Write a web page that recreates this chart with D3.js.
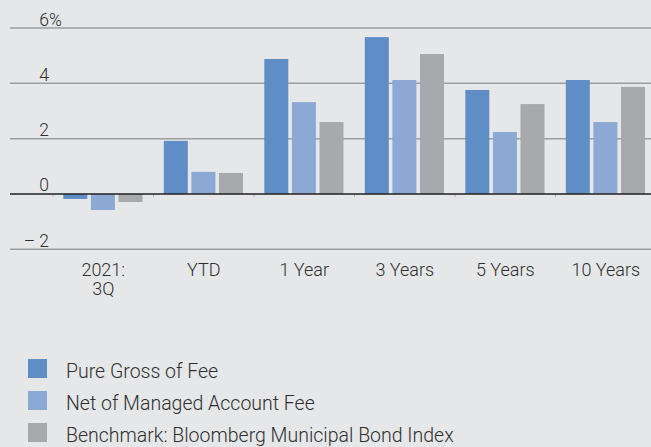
<!DOCTYPE html>
<html>
<head>
<meta charset="utf-8">
<script src="https://cdn.jsdelivr.net/npm/d3@7"></script>
<style>
  html, body { margin: 0; padding: 0; background: #e6e7e9; }
  svg { display: block; }
  text { font-family: "Roboto", sans-serif; font-weight: 300; fill: #2f2f30; }
</style>
</head>
<body>
<svg id="chart" width="651" height="447"></svg>
<script>
"use strict";

// data
const categories = ["2021:\n3Q", "YTD", "1 Year", "3 Years", "5 Years", "10 Years"];
const seriesNames = ["Pure Gross of Fee", "Net of Managed Account Fee", "Benchmark: Bloomberg Municipal Bond Index"];
const pureGross = [-0.18, 1.92, 4.88, 5.67, 3.76, 4.12];
const netOfFee = [-0.58, 0.80, 3.32, 4.12, 2.24, 2.60];
const benchmark = [-0.29, 0.76, 2.60, 5.06, 3.25, 3.87];
const yTicks = [-2, 0, 2, 4, 6];
const colors = ["#5f8ec6", "#8ba9d4", "#a8a9ac"];

const values = [pureGross, netOfFee, benchmark];



// layout
const svg = d3.select("#chart");
const gridLeft = 10,
      gridRight = 651;

let scaleY = d3.scaleLinear()
.domain([-2, 6])
.range([249.3, 28]);

let scaleX = d3.scaleBand()
.domain(categories)
.range([53, 656])
.padding(0);

let scaleInner = d3.scaleBand()
.domain(d3.range(seriesNames.length))
.range([10.3, 89.5])
.paddingInner(0.13);



// grid lines
svg.append("g")
.attr("class", "grid")
.selectAll("line")
.data(yTicks.filter(t => t != 0))
.enter()
.append("line")
.attr("x1", gridLeft)
.attr("x2", gridRight)
.attr("y1", d => scaleY(d))
.attr("y2", d => scaleY(d))
.attr("stroke", "#9c9d9f")
.attr("stroke-width", 1.5);



// y tick labels
let yLabels = svg.append("g").attr("class", "y_axis");
yLabels.selectAll("text")
.data(yTicks)
.enter()
.append("text")
.attr("x", 49)
.attr("y", d => scaleY(d) - 2.5)
.attr("text-anchor", "end")
.attr("font-size", 17.5)
.text(d => d < 0 ? "\u2013 " + Math.abs(d) : d);
yLabels.append("text")
.attr("x", 49)
.attr("y", scaleY(6) - 2.5)
.attr("font-size", 17.5)
.text("%");



// bars
svg.append("g")
.selectAll("g.bar_groups")
.data(categories)
.enter()
.append("g")
.attr("class", "bar_groups")
.attr("transform", d => `translate(${scaleX(d)}, 0)`)
.each(function(cat, i) {
    d3.select(this)
    .selectAll("rect")
    .data(values.map((v, k) => ({k: k, v: v[i]})))
    .enter()
    .append("rect")
    .attr("x", d => scaleInner(d.k))
    .attr("width", scaleInner.bandwidth())
    .attr("y", d => scaleY(Math.max(0, d.v)))
    .attr("height", d => Math.abs(scaleY(d.v) - scaleY(0)))
    .attr("fill", d => colors[d.k]);
});



// zero line + small ticks
svg.append("g")
.selectAll("line")
.data(categories)
.enter()
.append("line")
.attr("x1", d => scaleX(d))
.attr("x2", d => scaleX(d))
.attr("y1", scaleY(0))
.attr("y2", scaleY(0) + 3)
.attr("stroke", "#b5b6b8")
.attr("stroke-width", 1);

svg.append("line")
.attr("x1", gridLeft)
.attr("x2", gridRight)
.attr("y1", scaleY(0))
.attr("y2", scaleY(0))
.attr("stroke", "#231f20")
.attr("stroke-width", 1.5);



// x labels
svg.append("g")
.attr("class", "x_axis")
.selectAll("text")
.data(categories)
.enter()
.append("text")
.attr("text-anchor", "middle")
.attr("font-size", 18)
.each(function(d) {
    let x = scaleX(d) + scaleX.bandwidth() / 2;
    d3.select(this)
    .selectAll("tspan")
    .data(d.split("\n"))
    .enter()
    .append("tspan")
    .attr("x", x)
    .attr("y", (_, j) => 275.5 + j * 19.5)
    .text(t => t);
});



// legend
let legend = svg.append("g")
.attr("class", "legend")
.selectAll("g")
.data(seriesNames)
.enter()
.append("g")
.attr("transform", (_, i) => `translate(28, ${359 + i * 32})`);

legend.append("rect")
.attr("width", 19)
.attr("height", 19)
.attr("fill", (_, i) => colors[i]);

legend.append("text")
.attr("x", 38)
.attr("y", 18.5)
.attr("font-size", 19.5)
.text(d => d);
</script>
</body>
</html>
